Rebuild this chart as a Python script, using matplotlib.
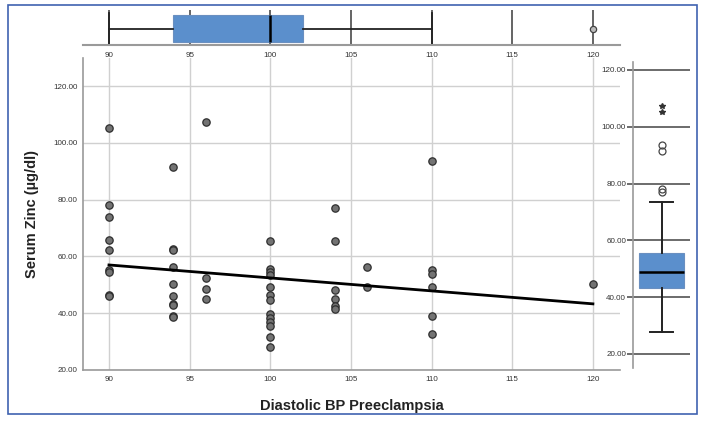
import matplotlib
matplotlib.use("Agg")
import matplotlib.pyplot as plt
from matplotlib.patches import Rectangle

plt.rcParams['font.family'] = ['Liberation Sans', 'DejaVu Sans']

# ---- data ----
bp_levels = [90, 94, 96, 100, 104, 106, 110, 120]
zinc_by_bp = [
    [105.1, 78.1, 73.8, 65.7, 62.1, 55.2, 54.6, 46.5, 46.1],
    [91.6, 62.7, 62.2, 56.2, 50.4, 46.0, 43.3, 42.9, 39.1, 38.6],
    [107.4, 52.4, 48.5, 45.1],
    [65.4, 55.5, 54.5, 53.5, 49.1, 46.4, 44.6, 39.7, 38.2, 36.9, 35.5, 31.5, 28.1],
    [76.9, 65.3, 48.1, 45.1, 42.5, 41.4],
    [56.2, 49.1],
    [93.5, 55.2, 53.7, 49.1, 39.1, 32.8],
    [50.3],
]
fit_x = [90, 120]
fit_y = [57.0, 43.3]

bp_box = dict(q1=94, med=100, q3=102, whislo=90, whishi=110, fliers=[120])
zinc_box = dict(q1=43.1, med=48.9, q3=55.4, whislo=27.9, whishi=73.6, fliers=[])
zinc_mild_outliers = [76.9, 78.1, 91.6, 93.5]
zinc_extreme_outliers = [105.1, 107.4]

x_ticks = [90, 95, 100, 105, 110, 115, 120]
y_ticks = [20, 40, 60, 80, 100, 120]
x_label = "Diastolic BP Preeclampsia"
y_label = "Serum Zinc (\u00b5g/dl)"

bp_points = [x for x, ys in zip(bp_levels, zinc_by_bp) for _ in ys]
zinc_points = [y for ys in zinc_by_bp for y in ys]

W, H = 704, 421
fig = plt.figure(figsize=(W / 100, H / 100), dpi=100)

def rect(x0, y0, x1, y1):
    return [x0 / W, 1 - y1 / H, (x1 - x0) / W, (y1 - y0) / H]

box_blue = '#5b8fcc'
tick_fs = 5.8
lab_col = '#333333'

# ---- main scatter ----
ax = fig.add_axes(rect(83, 58, 620, 370))
ax.set_xlim(88.39, 121.68)
ax.set_ylim(20, 129.9)
ax.set_xticks(x_ticks)
ax.set_yticks(y_ticks)
ax.set_yticklabels([f"{v:.2f}" for v in y_ticks])
ax.grid(True, color='#d0d0d0', lw=1.0)
ax.set_axisbelow(True)
for s in ['top', 'right']:
    ax.spines[s].set_visible(False)
for s in ['left', 'bottom']:
    ax.spines[s].set_color('#9a9a9a')
    ax.spines[s].set_linewidth(1.2)
ax.tick_params(length=0, labelsize=tick_fs, labelcolor=lab_col, pad=4)
ax.scatter(bp_points, zinc_points, s=28, facecolor='#737373',
           edgecolor='#2e2e2e', linewidths=0.9, zorder=3)
ax.plot(fit_x, fit_y, color='black', lw=2.0, zorder=4)
ax.set_xlabel(x_label, fontsize=10.5, fontweight='bold', labelpad=12, color='#222222')
ax.set_ylabel(y_label, fontsize=10.5, fontweight='bold', labelpad=10, color='#222222')

# ---- top box plot ----
axt = fig.add_axes(rect(83, 10, 620, 45))
axt.bxp([dict(bp_box)], positions=[-0.03], vert=False, widths=0.78, patch_artist=True,
        showfliers=False, manage_ticks=False,
        boxprops=dict(facecolor=box_blue, edgecolor='#6a8fc0', lw=0.8),
        medianprops=dict(color='black', lw=1.8),
        whiskerprops=dict(color='#222222', lw=1.3),
        capprops=dict(color='#222222', lw=1.3), capwidths=0.9)
axt.plot(bp_box['fliers'], [-0.03] * len(bp_box['fliers']), 'o', ms=4.5,
         mfc='#bbbbbb', mec='#444444', mew=0.9, zorder=4)
axt.set_xlim(88.39, 121.68)
axt.set_ylim(-0.5, 0.5)
axt.set_xticks(x_ticks)
axt.set_yticks([])
for s in ['top', 'right', 'left']:
    axt.spines[s].set_visible(False)
axt.spines['bottom'].set_color('#9a9a9a')
axt.spines['bottom'].set_linewidth(1.5)
axt.tick_params(length=0, labelsize=tick_fs, labelcolor=lab_col, pad=5)
axt.grid(True, axis='x', color='#3a3a3a', lw=1.1)
axt.set_axisbelow(True)

# ---- right box plot ----
axr = fig.add_axes(rect(633, 62, 690, 368))
axr.bxp([dict(zinc_box)], positions=[0.5], widths=0.8, patch_artist=True,
        showfliers=False, manage_ticks=False,
        boxprops=dict(facecolor=box_blue, edgecolor='#6a8fc0', lw=0.8),
        medianprops=dict(color='black', lw=1.8),
        whiskerprops=dict(color='#222222', lw=1.4),
        capprops=dict(color='#222222', lw=1.4), capwidths=0.4)
axr.plot([0.5] * len(zinc_mild_outliers), zinc_mild_outliers, 'o', ms=5,
         mfc='none', mec='#444444', mew=0.9, zorder=4)
axr.plot([0.5] * len(zinc_extreme_outliers), zinc_extreme_outliers, '*', ms=4,
         color='#333333', zorder=4)
axr.set_xlim(0, 1)
axr.set_ylim(15.07, 122.8)
axr.set_yticks(y_ticks)
axr.set_yticklabels([f"{v:.2f}" for v in y_ticks])
axr.set_xticks([])
for s in ['top', 'right', 'bottom']:
    axr.spines[s].set_visible(False)
axr.spines['left'].set_color('#9a9a9a')
axr.spines['left'].set_linewidth(1.2)
axr.tick_params(axis='y', length=4, width=1.1, color='#444444',
                labelsize=tick_fs, labelcolor=lab_col, pad=1)
axr.grid(True, axis='y', color='#444444', lw=1.1)
axr.set_axisbelow(True)

# ---- blue frame ----
fig.patches.append(Rectangle((8 / W, 1 - 414 / H), (697 - 8) / W, (414 - 5) / H,
                             transform=fig.transFigure, fill=False,
                             edgecolor='#3f62b0', lw=1.2))

fig.savefig("out.png", dpi=100)
